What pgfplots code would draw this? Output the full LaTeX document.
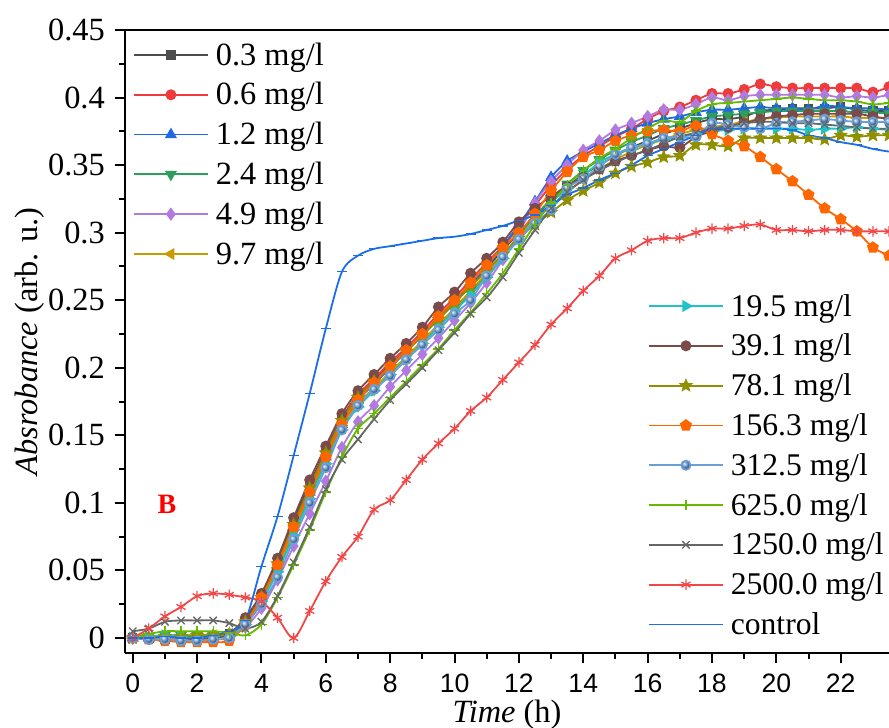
\documentclass[border=0pt]{standalone}
\usepackage{fontspec}
\setmainfont{Liberation Serif}
\newfontfamily\sansfont{Liberation Sans}
\usepackage{pgfplots}
\pgfplotsset{compat=1.18}
\usepackage{pgfplotstable}
\usetikzlibrary{plotmarks}

\definecolor{c03}{HTML}{4D4D4D}
\definecolor{c06}{HTML}{EE3B3B}
\definecolor{c12}{HTML}{1F6AE0}
\definecolor{c24}{HTML}{2E9E5B}
\definecolor{c49}{HTML}{B07AE0}
\definecolor{c97}{HTML}{C89B00}
\definecolor{c195}{HTML}{1EC3C8}
\definecolor{c391}{HTML}{7B4B4B}
\definecolor{c781}{HTML}{8F8F00}
\definecolor{c1563}{HTML}{FF6600}
\definecolor{c3125}{HTML}{6C9FD6}
\definecolor{c6250}{HTML}{66BB00}
\definecolor{c12500}{HTML}{666666}
\definecolor{c25000}{HTML}{F04848}
\definecolor{cctrl}{HTML}{1A6FE8}

\pgfdeclareplotmark{fstar}{%
 \pgfpathmoveto{\pgfpointpolar{90}{\pgfplotmarksize}}%
 \pgfpathlineto{\pgfpointpolar{126}{0.45\pgfplotmarksize}}%
 \pgfpathlineto{\pgfpointpolar{162}{\pgfplotmarksize}}%
 \pgfpathlineto{\pgfpointpolar{198}{0.45\pgfplotmarksize}}%
 \pgfpathlineto{\pgfpointpolar{234}{\pgfplotmarksize}}%
 \pgfpathlineto{\pgfpointpolar{270}{0.45\pgfplotmarksize}}%
 \pgfpathlineto{\pgfpointpolar{306}{\pgfplotmarksize}}%
 \pgfpathlineto{\pgfpointpolar{342}{0.45\pgfplotmarksize}}%
 \pgfpathlineto{\pgfpointpolar{18}{\pgfplotmarksize}}%
 \pgfpathlineto{\pgfpointpolar{54}{0.45\pgfplotmarksize}}%
 \pgfpathclose
 \pgfusepathqfillstroke}

\pgfplotstableread{
x s03 s06 s12 s24 s49 s97 s195 s391 s781 s1563 s3125 s6250 s12500 s25000 ctrl
0.0 0.000 0.000 0.000 0.000 0.000 0.000 0.000 0.000 0.000 0.000 0.000 0.001 0.005 0.000 0.000
0.5 0.000 0.000 0.000 0.001 0.000 0.000 0.001 -0.001 0.000 -0.001 -0.001 0.003 0.007 0.007 0.000
1.0 -0.001 0.000 0.000 0.002 0.000 0.000 0.002 -0.002 0.001 -0.002 -0.001 0.005 0.012 0.016 0.001
1.5 0.000 0.000 0.000 0.002 0.000 0.001 0.001 -0.002 0.001 -0.003 -0.002 0.005 0.013 0.023 0.000
2.0 0.000 0.000 0.000 0.002 0.001 0.001 0.000 -0.001 0.002 -0.003 -0.002 0.005 0.013 0.031 0.000
2.5 0.001 0.001 0.001 0.002 0.001 0.002 0.001 0.000 0.002 -0.003 -0.001 0.005 0.013 0.033 0.002
3.0 0.003 0.002 0.001 0.002 0.002 0.003 0.001 0.003 0.003 -0.002 0.000 0.004 0.011 0.032 0.005
3.5 0.014 0.012 0.012 0.010 0.008 0.011 0.010 0.015 0.012 0.010 0.010 0.002 0.007 0.030 0.013
4.0 0.032 0.030 0.030 0.027 0.022 0.028 0.027 0.033 0.030 0.030 0.025 0.010 0.012 0.027 0.053
4.5 0.057 0.055 0.054 0.050 0.043 0.052 0.049 0.059 0.055 0.054 0.045 0.030 0.031 0.015 0.090
5.0 0.087 0.084 0.082 0.078 0.068 0.080 0.076 0.089 0.084 0.082 0.073 0.054 0.056 0.000 0.135
5.5 0.114 0.112 0.108 0.105 0.092 0.107 0.103 0.117 0.111 0.108 0.100 0.080 0.082 0.020 0.181
6.0 0.139 0.138 0.134 0.131 0.116 0.133 0.129 0.142 0.137 0.134 0.126 0.108 0.110 0.042 0.229
6.5 0.163 0.162 0.158 0.155 0.141 0.157 0.154 0.166 0.161 0.158 0.154 0.134 0.132 0.060 0.271
7.0 0.180 0.180 0.176 0.172 0.160 0.174 0.171 0.183 0.178 0.176 0.172 0.155 0.147 0.075 0.283
7.5 0.191 0.192 0.188 0.184 0.172 0.185 0.183 0.195 0.190 0.189 0.184 0.166 0.162 0.095 0.288
8.0 0.202 0.204 0.200 0.196 0.186 0.197 0.195 0.207 0.201 0.201 0.194 0.178 0.176 0.102 0.290
8.5 0.213 0.215 0.212 0.207 0.198 0.208 0.206 0.218 0.212 0.213 0.206 0.190 0.188 0.117 0.292
9.0 0.225 0.227 0.224 0.219 0.210 0.220 0.218 0.230 0.224 0.225 0.217 0.202 0.200 0.132 0.294
9.5 0.237 0.240 0.236 0.231 0.222 0.232 0.230 0.245 0.236 0.238 0.228 0.214 0.213 0.144 0.296
10.0 0.249 0.252 0.248 0.243 0.235 0.244 0.242 0.256 0.248 0.250 0.240 0.228 0.226 0.155 0.297
10.5 0.261 0.265 0.261 0.256 0.248 0.257 0.254 0.270 0.260 0.263 0.250 0.241 0.240 0.168 0.299
11.0 0.274 0.278 0.275 0.269 0.263 0.270 0.267 0.281 0.272 0.276 0.268 0.255 0.252 0.178 0.302
11.5 0.287 0.290 0.290 0.283 0.280 0.283 0.281 0.293 0.284 0.289 0.282 0.270 0.267 0.191 0.305
12.0 0.300 0.304 0.306 0.298 0.300 0.297 0.295 0.308 0.296 0.300 0.295 0.288 0.285 0.204 0.309
12.5 0.312 0.320 0.323 0.312 0.322 0.309 0.309 0.318 0.306 0.314 0.307 0.306 0.302 0.217 0.313
13.0 0.324 0.335 0.341 0.325 0.338 0.320 0.322 0.327 0.315 0.331 0.317 0.322 0.318 0.232 0.320
13.5 0.334 0.347 0.353 0.336 0.350 0.330 0.333 0.334 0.324 0.345 0.333 0.335 0.330 0.244 0.328
14.0 0.343 0.357 0.360 0.346 0.361 0.339 0.342 0.341 0.331 0.356 0.340 0.346 0.339 0.257 0.333
14.5 0.350 0.364 0.366 0.354 0.368 0.347 0.352 0.347 0.337 0.361 0.349 0.355 0.346 0.268 0.339
15.0 0.357 0.371 0.372 0.361 0.376 0.354 0.358 0.353 0.344 0.368 0.358 0.362 0.352 0.281 0.344
15.5 0.363 0.377 0.377 0.367 0.381 0.360 0.362 0.357 0.349 0.372 0.363 0.370 0.357 0.287 0.350
16.0 0.368 0.384 0.381 0.372 0.386 0.365 0.366 0.361 0.352 0.375 0.366 0.377 0.361 0.294 0.357
16.5 0.373 0.390 0.384 0.377 0.391 0.369 0.369 0.364 0.356 0.376 0.370 0.383 0.366 0.296 0.362
17.0 0.377 0.393 0.386 0.380 0.391 0.373 0.371 0.363 0.357 0.375 0.371 0.382 0.371 0.296 0.367
17.5 0.381 0.398 0.389 0.383 0.395 0.376 0.373 0.371 0.365 0.379 0.371 0.390 0.374 0.300 0.372
18.0 0.384 0.403 0.391 0.386 0.400 0.378 0.375 0.375 0.365 0.373 0.381 0.395 0.377 0.303 0.377
18.5 0.384 0.403 0.391 0.387 0.398 0.380 0.376 0.378 0.364 0.368 0.380 0.396 0.379 0.303 0.377
19.0 0.386 0.406 0.392 0.388 0.401 0.382 0.377 0.381 0.370 0.364 0.378 0.397 0.381 0.305 0.377
19.5 0.390 0.410 0.393 0.389 0.402 0.384 0.377 0.384 0.370 0.356 0.377 0.398 0.382 0.306 0.377
20.0 0.391 0.408 0.392 0.390 0.402 0.385 0.377 0.386 0.370 0.347 0.381 0.399 0.382 0.302 0.377
20.5 0.392 0.407 0.392 0.390 0.402 0.386 0.377 0.387 0.370 0.338 0.382 0.400 0.381 0.302 0.376
21.0 0.392 0.407 0.391 0.390 0.402 0.386 0.376 0.388 0.370 0.328 0.383 0.399 0.381 0.301 0.372
21.5 0.392 0.407 0.394 0.390 0.402 0.386 0.377 0.388 0.369 0.318 0.384 0.398 0.380 0.302 0.370
22.0 0.393 0.407 0.393 0.390 0.400 0.386 0.377 0.388 0.372 0.310 0.383 0.398 0.379 0.302 0.367
22.5 0.391 0.407 0.392 0.389 0.401 0.385 0.378 0.388 0.371 0.301 0.382 0.397 0.378 0.301 0.365
23.0 0.390 0.404 0.392 0.389 0.400 0.385 0.377 0.386 0.372 0.289 0.382 0.395 0.377 0.301 0.362
23.5 0.390 0.408 0.391 0.388 0.402 0.385 0.376 0.384 0.372 0.283 0.382 0.396 0.377 0.301 0.360
}\datatable

\pgfplotsset{
  base/.style={
    width=764pt, height=623pt, scale only axis,
    xmin=-0.24, xmax=23.5, ymin=-0.0111, ymax=0.45,
    every axis plot/.append style={line width=1.8pt, smooth, tension=0.5},
    legend cell align=left,
    legend image code/.code={\draw[mark repeat=2,mark phase=2] plot coordinates {(0pt,0pt) (37pt,0pt) (74pt,0pt)};},
  },
  lgd/.style 2 args={legend style={draw=none, fill=none, inner sep=0pt, outer sep=0pt,
    font=\fontsize{#2}{38}\selectfont, row sep=0pt, column sep=7pt,
    nodes={inner sep=0pt, text height=30pt, text depth=9.8pt},
    at={#1}, anchor=north west}},
}

\begin{document}
\begin{tikzpicture}
\begin{axis}[base, lgd={(0.0105,0.9918)}{32.4},
  axis x line*=bottom, axis y line*=left,
  axis line style={line width=2.5pt},
  tick align=outside,
  major tick length=10pt, minor tick length=6pt,
  every tick/.style={line width=2pt, black},
  xtick={0,2,...,22}, minor x tick num=1,
  ytick={0,0.05,...,0.451}, minor y tick num=1,
  /pgf/number format/assume math mode=true,
  yticklabel style={/pgf/number format/fixed, /pgf/number format/precision=2,
    font=\fontsize{32.4}{38}\selectfont, anchor=east, inner sep=0pt, xshift=-10pt},
  xticklabel style={font=\fontsize{26.6}{32}\sansfont, anchor=north, inner sep=0pt, yshift=-11pt},
  xlabel={\textit{Time} (h)},
  ylabel={\textit{Absrobance} (arb. u.)},
  every axis x label/.style={at={(axis description cs:0.5,-0.1108)}, anchor=base, font=\fontsize{32.4}{38}\selectfont},
  every axis y label/.style={at={(axis description cs:-0.125,0.5)}, rotate=90, anchor=center, font=\fontsize{32.4}{38}\selectfont},
]
\coordinate (SW) at (rel axis cs:0,0);
\coordinate (NW) at (rel axis cs:0,1);
\coordinate (NE) at (rel axis cs:1,1);
\addplot[color=c03, mark=square*, mark size=3.8pt, mark options={solid}] table[y=s03] {\datatable};
\addlegendentry{0.3 mg/l}
\addplot[color=c06, mark=*, mark size=4.6pt, mark options={solid}] table[y=s06] {\datatable};
\addlegendentry{0.6 mg/l}
\addplot[color=c12, mark=triangle*, mark size=5.2pt, mark options={solid}] table[y=s12] {\datatable};
\addlegendentry{1.2 mg/l}
\addplot[color=c24, mark=triangle*, mark size=5.2pt, mark options={solid, rotate=180}] table[y=s24] {\datatable};
\addlegendentry{2.4 mg/l}
\addplot[color=c49, mark=diamond*, mark size=5.2pt, mark options={solid}] table[y=s49] {\datatable};
\addlegendentry{4.9 mg/l}
\addplot[color=c97, mark=triangle*, mark size=5.2pt, mark options={solid, rotate=90}] table[y=s97] {\datatable};
\addlegendentry{9.7 mg/l}
\node[text=red, font=\fontsize{28}{32}\selectfont\bfseries] at (axis cs:1.065,0.099) {B};
\end{axis}
\begin{axis}[base, lgd={(0.6846,0.5889)}{31.6}, hide axis]
\addplot[color=c195, mark=triangle*, mark size=5.2pt, mark options={solid, rotate=-90}] table[y=s195] {\datatable};
\addlegendentry{19.5 mg/l}
\addplot[color=c391, mark=*, mark size=4.6pt, mark options={solid}] table[y=s391] {\datatable};
\addlegendentry{39.1 mg/l}
\addplot[color=c781, mark=fstar, mark size=5.2pt, mark options={solid}] table[y=s781] {\datatable};
\addlegendentry{78.1 mg/l}
\addplot[color=c1563, mark=pentagon*, mark size=5.2pt, mark options={solid}] table[y=s1563] {\datatable};
\addlegendentry{156.3 mg/l}
\addplot[color=c3125, mark=ball, mark size=4.6pt, mark options={solid, ball color=c3125}] table[y=s3125] {\datatable};
\addlegendentry{312.5 mg/l}
\addplot[color=c6250, mark=+, mark size=5.2pt, mark options={solid, line width=1.3pt}] table[y=s6250] {\datatable};
\addlegendentry{625.0 mg/l}
\addplot[color=c12500, mark=x, mark size=5.2pt, mark options={solid, line width=1.3pt}] table[y=s12500] {\datatable};
\addlegendentry{1250.0 mg/l}
\addplot[color=c25000, mark=asterisk, mark size=5.2pt, mark options={solid, line width=1.3pt}] table[y=s25000] {\datatable};
\addlegendentry{2500.0 mg/l}
\addplot[color=cctrl, mark=-, mark size=5pt, mark options={solid, line width=1.2pt}] table[y=ctrl] {\datatable};
\addlegendentry{control}
\end{axis}
\draw[line width=2.5pt] (NW) -- (NE);
\pgfresetboundingbox
\path[use as bounding box] ([shift={(-125pt,-75pt)}]SW) rectangle ([shift={(0pt,30pt)}]NE);
\end{tikzpicture}
\end{document}
